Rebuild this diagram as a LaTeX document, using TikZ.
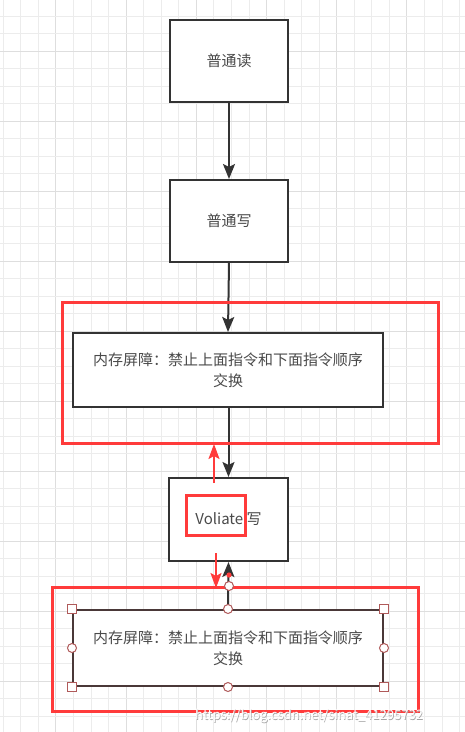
\documentclass[tikz,border=0pt]{standalone}
\usepackage{fontspec}
\setmainfont{Noto Sans CJK SC}
\usetikzlibrary{arrows.meta}
\definecolor{gridc}{HTML}{ECECEC}
\definecolor{gridd}{HTML}{DEDEDE}
\definecolor{redc}{HTML}{FF3B3B}
\definecolor{boxc}{HTML}{333333}
\definecolor{selc}{HTML}{4A3838}
\definecolor{handc}{HTML}{B05A5A}
\definecolor{txtc}{HTML}{4A4A4A}
\begin{document}
\begin{tikzpicture}[x=1pt,y=-1pt,
  box/.style={draw=boxc,line width=2pt,fill=white,text=txtc,font=\fontsize{15}{21}\selectfont,align=center,inner sep=0pt},
  selbox/.style={box,draw=selc},
  arr/.style={draw=boxc,line width=2pt,-{Stealth[width=12pt,length=15pt,inset=3pt]}},
  redarr/.style={draw=redc,line width=2pt,-{Stealth[width=11pt,length=15pt,inset=3pt]}},
  redbox/.style={draw=redc,line width=3pt},
  handsq/.style={draw=handc,fill=white,line width=1pt,minimum size=9pt,inner sep=0pt,shape=rectangle},
  handci/.style={draw=handc,fill=white,line width=1pt,minimum size=9pt,inner sep=0pt,shape=circle}]
\useasboundingbox (0,0) rectangle (465,732);
\fill[white] (0,0) rectangle (465,732);
% grid
\foreach \i in {0,...,26}{
  \pgfmathtruncatemacro{\m}{mod(\i,4)}
  \ifnum\m=3 \def\gc{gridd}\else\def\gc{gridc}\fi
  \draw[\gc,line width=1pt] ({3.3+\i*17.55},0) -- ({3.3+\i*17.55},732);
}
\foreach \j in {0,...,41}{
  \pgfmathtruncatemacro{\m}{mod(\j,4)}
  \ifnum\m=2 \def\gc{gridd}\else\def\gc{gridc}\fi
  \draw[\gc,line width=1pt] (0,{16.3+\j*17.5}) -- (465,{16.3+\j*17.5});
}
% boxes
\node[box,minimum width=118pt,minimum height=82pt] (r) at (229,61) {普通读};
\node[box,minimum width=118pt,minimum height=82pt] (w) at (229,221) {普通写};
\node[box,minimum width=310pt,minimum height=74pt] (b1) at (228,370) {内存屏障：禁止上面指令和下面指令顺序\\交换};
\node[box,minimum width=119pt,minimum height=83pt] (v) at (228.5,519.5) {Voliate 写};
\node[selbox,minimum width=310pt,minimum height=76pt] (b2) at (228,648) {内存屏障：禁止上面指令和下面指令顺序\\交换};
% black connectors
\draw[arr] (r.south) -- (w.north);
\draw[arr] (w.south) -- (b1.north);
\draw[arr] (b1.south -| v.south) -- (v.north);
\draw[arr] (b2.north) -- (v.south);
% red frames
\draw[redbox] (62,302) rectangle (438,443);
\draw[redbox] (52,587) rectangle (418,711);
\draw[redbox] (186,495) rectangle (245,535);
% red arrows
\coordinate (ua) at (214,483);
\coordinate (ub) at (214,444);
\coordinate (da) at (216,553);
\coordinate (db) at (216,588);
\draw[redarr] (ua) -- (ub);
\draw[redarr] (da) -- (db);
% selection marks
\fill[redc] (229,575) circle (2.6);
\node[handci] (h0) at (229,586) {};
\node[handsq] (s1) at (b2.north west) {};
\node[handsq] (s2) at (b2.north east) {};
\node[handsq] (s3) at (b2.south west) {};
\node[handsq] (s4) at (b2.south east) {};
\node[handci] (c1) at (b2.north) {};
\node[handci] (c2) at (b2.south) {};
\node[handci] (c3) at (b2.west) {};
\node[handci] (c4) at (b2.east) {};
% watermark
\node[anchor=west,text=gray!70,font=\fontsize{13}{13}\selectfont,inner sep=0pt] (wm0) at (195.7,716.7) {https://blog.csdn.net/sinat\_41295732};
\node[anchor=west,text=white,font=\fontsize{13}{13}\selectfont,inner sep=0pt] (wm) at (195,716) {https://blog.csdn.net/sinat\_41295732};
\end{tikzpicture}
\end{document}
